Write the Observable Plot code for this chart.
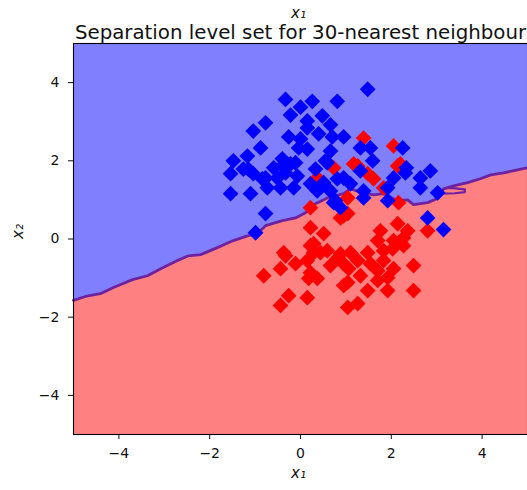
<!DOCTYPE html>
<html>
<head>
<meta charset="utf-8">
<script src="https://cdn.jsdelivr.net/npm/d3@7"></script>
<script src="https://cdn.jsdelivr.net/npm/@observablehq/plot@0.6"></script>
<style>
  body { margin: 0; background: #fff; }
</style>
</head>
<body>
<div id="chart"></div>
<script>
// Class 1 (blue) training points, [x1, x2]
const bluePoints = [
  [1.48,3.83],[-0.33,3.57],[0.26,3.52],[0.81,3.52],[0.00,3.37],[-0.22,3.17],[0.48,3.15],
  [-0.77,2.97],[0.15,3.02],[-1.04,2.76],[0.66,2.92],[0.15,2.84],[0.40,2.69],[-0.26,2.61],
  [0.70,2.61],[0.95,2.61],[0.00,2.56],[-0.88,2.33],[-0.04,2.33],[0.15,2.30],[0.66,2.25],
  [-1.17,2.12],[1.32,2.33],[1.54,2.33],[2.25,2.33],[-0.40,2.05],[-0.22,1.92],[-0.59,1.82],
  [0.55,2.00],[1.59,2.00],[1.32,1.74],[2.33,1.82],[2.86,1.74],[-1.26,1.79],[-1.04,1.67],
  [-0.77,1.56],[-0.51,1.56],[-0.33,1.69],[-0.07,1.61],[0.22,1.41],[0.51,1.44],[0.95,1.56],
  [1.10,1.41],[-1.10,1.16],[-0.73,1.31],[-0.44,1.31],[-0.15,1.31],[0.37,1.23],[0.66,1.23],
  [1.39,1.23],[1.92,1.31],[2.05,1.56],[2.64,1.56],[2.64,1.31],[3.02,1.18],[-0.77,0.65],
  [0.77,0.98],[0.88,0.80],[1.39,1.05],[1.92,0.98],[2.80,0.54],[-0.99,0.16],[3.15,0.24],
  [-1.48,2.00],[-1.54,1.67],[-1.54,1.16],[-0.40,1.87],[-0.11,1.95],[0.33,1.79],[0.59,1.95],
  [0.81,1.54],[0.73,0.93],[2.31,1.69],[-0.84,1.54],[-1.15,1.79]
];

// Class 0 (red) training points, [x1, x2]
const redPoints = [
  [1.39,2.58],[2.05,2.38],[1.17,1.92],[1.48,1.67],[0.37,1.56],[0.73,1.82],[2.14,1.87],
  [1.61,1.54],[1.83,1.31],[1.04,1.05],[0.22,0.80],[0.88,0.54],[1.04,0.65],[0.22,0.29],
  [0.51,0.14],[1.76,0.21],[2.14,0.39],[2.36,0.21],[2.80,0.21],[0.29,-0.12],[2.05,-0.04],
  [2.27,0.03],[1.70,-0.04],[-0.37,-0.35],[0.29,-0.35],[0.59,-0.30],[0.88,-0.38],[1.10,-0.35],
  [1.48,-0.35],[1.83,-0.30],[2.03,-0.25],[2.27,-0.17],[-0.44,-0.76],[-0.81,-0.94],[-0.11,-0.63],
  [0.15,-0.55],[0.22,-0.86],[0.66,-0.68],[0.95,-0.63],[1.26,-0.55],[1.54,-0.63],[1.70,-0.81],
  [2.05,-0.76],[2.49,-0.68],[0.37,-1.01],[1.04,-1.11],[1.32,-0.94],[1.70,-1.06],[1.92,-1.32],
  [1.48,-1.32],[2.49,-1.32],[-0.26,-1.45],[0.15,-1.50],[1.04,-1.75],[1.26,-1.65],[-0.44,-1.70],
  [2.16,0.93],[2.20,1.92],[1.26,1.87],[0.95,0.59],[1.83,-0.55],[1.92,-0.99],[-0.33,-0.43],
  [0.44,-0.35],[0.81,-0.50],[1.06,-0.76],[0.95,-1.19],[0.18,-1.01],[0.22,-0.17]
];

// Decision boundary of the 30-NN classifier (level set 0.5), left to right
const boundary = [
  [-5,-1.57],[-4.74,-1.47],[-4.41,-1.40],[-4.12,-1.24],[-3.70,-1.04],[-3.37,-0.94],
  [-3.08,-0.76],[-2.71,-0.55],[-2.47,-0.43],[-2.20,-0.40],[-1.83,-0.22],[-1.48,-0.04],
  [-1.17,0.08],[-0.95,0.14],[-0.77,0.34],[-0.40,0.47],[-0.11,0.54],[0.11,0.67],
  [0.33,0.90],[0.59,1.05],[0.95,1.16],[1.10,1.28],[1.39,1.18],[1.61,1.13],[1.83,1.16],
  [2.14,0.98],[2.36,1.00],[2.49,0.88],[2.80,0.93],[3.04,1.05],[3.15,1.28],[3.37,1.36],
  [3.68,1.44],[3.96,1.54],[4.19,1.64],[4.47,1.69],[4.78,1.77],[5,1.82]
];

// Small detached piece of the same level set
const boundarySpur = [[3.12,1.16],[3.40,1.17],[3.62,1.20],[3.62,1.27],[3.35,1.30],[3.18,1.30]];

const ticks = [-4, -2, 0, 2, 4];
const titleText = "Separation level set for 30-nearest neighbour";
const xLabel = "x\u2081";
const yLabel = "x\u2082";

const blueRegion = "#8080ff";
const redRegion = "#ff8080";
const lineColor = "#6e22a0";

const chart = Plot.plot({
  width: 527,
  height: 490,
  marginTop: 43,
  marginBottom: 56,
  marginLeft: 73,
  marginRight: 0,
  x: {domain: [-5, 5]},
  y: {domain: [-5, 5]},
  style: {fontFamily: "DejaVu Sans", fontSize: "14px", color: "#111", background: "#fff"},
  marks: [
    Plot.frame({fill: blueRegion}),
    Plot.areaY(boundary, {x: d => d[0], y1: () => -5, y2: d => d[1], fill: redRegion}),
    Plot.line(boundary, {x: d => d[0], y: d => d[1], stroke: lineColor, strokeWidth: 2.8}),
    Plot.line(boundarySpur, {x: d => d[0], y: d => d[1], stroke: lineColor, strokeWidth: 2.2}),
    Plot.dot(redPoints, {x: d => d[0], y: d => d[1], symbol: "diamond2", r: 7.1, fill: "#ff0000"}),
    Plot.dot(bluePoints, {x: d => d[0], y: d => d[1], symbol: "diamond2", r: 7.1, fill: "#0000ff"}),
    Plot.frame({stroke: "#000", strokeWidth: 1.1}),
    Plot.axisX({ticks, tickSize: 5, tickPadding: 9, label: null, fontSize: 14}),
    Plot.axisY({ticks, tickSize: 5, tickPadding: 9, label: null, fontSize: 14}),
    Plot.text([titleText], {frameAnchor: "top", text: d => d, dy: -19, fontSize: 19.8}),
    Plot.text([xLabel], {frameAnchor: "top", text: d => d, dx: -2, dy: -36, fontSize: 15, fontStyle: "italic"}),
    Plot.text([xLabel], {frameAnchor: "bottom", text: d => d, dx: -2, dy: 43, fontSize: 15, fontStyle: "italic"}),
    Plot.text([yLabel], {frameAnchor: "left", text: d => d, dx: -55, rotate: -90, fontSize: 15, fontStyle: "italic"})
  ]
});

document.getElementById("chart").appendChild(chart);
</script>
</body>
</html>
